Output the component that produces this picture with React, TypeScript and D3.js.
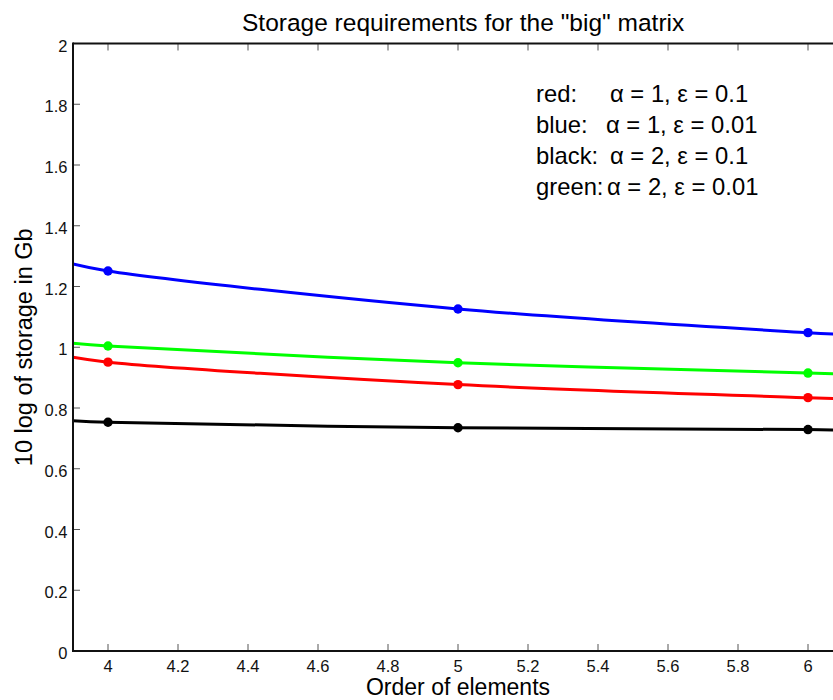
import React from "react";
import * as d3 from "d3";

const W = 833;
const H = 700;

const curveX = [3.9, 4, 5, 6, 6.1];
// marker positions
const markerX = [4, 5, 6];

const blueVals = [1.274, 1.251, 1.126, 1.048, 1.042];
const greenVals = [1.013, 1.004, 0.949, 0.915, 0.912];
const redVals = [0.967, 0.951, 0.877, 0.834, 0.830];
const blackVals = [0.758, 0.753, 0.735, 0.729, 0.727];

const seriesColors = ["#0000ff", "#00ff00", "#ff0000", "#000000"];
const seriesValues = [blueVals, greenVals, redVals, blackVals];

const legendLabels = ["red:", "blue:", "black:", "green:"];
const legendExprs = ["α = 1, ε = 0.1", "α = 1, ε = 0.01", "α = 2, ε = 0.1", "α = 2, ε = 0.01"];
const legendExprX = [610, 606, 610, 607];

const title = 'Storage requirements for the "big" matrix';
const xLabel = "Order of elements";
const yLabel = "10 log of storage in Gb";

const FONT = "'Liberation Sans', Arial, Helvetica, sans-serif";

export default function App() {
  const x = d3.scaleLinear().domain([3.9, 6.1]).range([73, 843]);
  const y = d3.scaleLinear().domain([0, 2]).range([651, 43.5]);
  const xTicks = x.ticks(10);
  const yTicks = y.ticks(10);
  const fmt = (v: number) => String(+v.toFixed(1));

  const line = d3
    .line<number>()
    .x((_, i) => x(curveX[i]))
    .y((d) => y(d))
    .curve(d3.curveCatmullRom.alpha(0.5));

  const left = x.range()[0];
  const top = y.range()[1];
  const bottom = y.range()[0];

  return (
    <svg
      width={W}
      height={H}
      style={{ position: "absolute", left: 0, top: 0, display: "block", background: "#fff" }}
      fontFamily={FONT}
    >
      <defs>
        <clipPath id="plot">
          <rect x={left} y={top} width={W - left} height={bottom - top} />
        </clipPath>
      </defs>

      {/* ticks */}
      {xTicks.map((t) => (
        <g key={"xt" + t}>
          <line x1={x(t)} x2={x(t)} y1={bottom} y2={bottom - 7} stroke="#555" strokeWidth={1} />
          <line x1={x(t)} x2={x(t)} y1={top} y2={top + 7} stroke="#555" strokeWidth={1} />
          <text x={x(t)} y={672} textAnchor="middle" fontSize={16.5} fill="#111">
            {fmt(t)}
          </text>
        </g>
      ))}
      {yTicks.map((t) => (
        <g key={"yt" + t}>
          <line x1={left} x2={left + 7} y1={y(t)} y2={y(t)} stroke="#555" strokeWidth={1} />
          <text x={67.5} y={y(t) + 8} textAnchor="end" fontSize={16.5} fill="#111">
            {fmt(t)}
          </text>
        </g>
      ))}

      {/* series */}
      <g clipPath="url(#plot)">
        {seriesValues.map((vals, si) => (
          <g key={"s" + si}>
            <path d={line(vals) || ""} fill="none" stroke={seriesColors[si]} strokeWidth={3} />
            {markerX.map((mx) => {
              const idx = curveX.indexOf(mx);
              return <circle key={mx} cx={x(mx)} cy={y(vals[idx])} r={4.7} fill={seriesColors[si]} />;
            })}
          </g>
        ))}
      </g>

      {/* axes lines */}
      <line x1={left} x2={W} y1={bottom} y2={bottom} stroke="#111" strokeWidth={2} />
      <line x1={left} x2={W} y1={top} y2={top} stroke="#111" strokeWidth={2} />
      <line x1={left} x2={left} y1={top - 1} y2={bottom + 1} stroke="#111" strokeWidth={2} />

      {/* legend text */}
      {legendLabels.map((lab, i) => (
        <g key={"lg" + i}>
          <text x={536} y={102 + i * 31} fontSize={23.8} fill="#000">
            {lab}
          </text>
          <text x={legendExprX[i]} y={102 + i * 31} fontSize={23.8} fill="#000">
            {legendExprs[i]}
          </text>
        </g>
      ))}

      {/* title and labels */}
      <text x={242} y={31} fontSize={24.5} fill="#000">
        {title}
      </text>
      <text x={(x(3.9) + x(6.1)) / 2} y={695} textAnchor="middle" fontSize={23} fill="#000">
        {xLabel}
      </text>
      <text
        transform={`translate(32, ${(top + bottom) / 2}) rotate(-90)`}
        textAnchor="middle"
        fontSize={23.5}
        fill="#000"
      >
        {yLabel}
      </text>
    </svg>
  );
}
